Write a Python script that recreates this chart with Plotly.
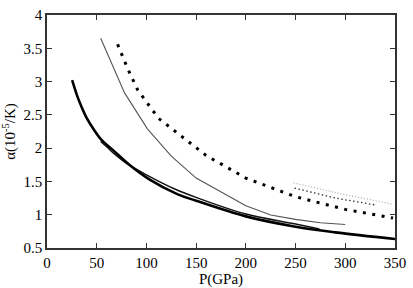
import plotly.graph_objects as go

# Thick solid black
p_a = [25.3, 30, 35, 40, 46.6, 55, 66.4, 82.8, 102.5, 131, 150, 200, 250, 290, 350]
a_a = [3.02, 2.80, 2.61, 2.45, 2.29, 2.12, 1.97, 1.75, 1.535, 1.31, 1.21, 0.975, 0.82, 0.735, 0.635]

# Thinner solid black
p_b = [54, 60, 68, 80, 100, 128, 150, 200, 250, 274]
a_b = [2.10, 2.02, 1.91, 1.77, 1.60, 1.39, 1.26, 1.01, 0.86, 0.785]

# Thin gray solid
p_c = [54, 78, 101, 125, 150, 200, 225, 250, 275, 300]
a_c = [3.65, 2.83, 2.29, 1.88, 1.55, 1.135, 0.995, 0.93, 0.88, 0.853]

# Thick dotted black
p_d = [71, 81, 91, 112, 160, 200, 250, 300, 348]
a_d = [3.56, 3.2, 2.88, 2.45, 1.89, 1.55, 1.27, 1.08, 0.95]

# Fine gray dotted
p_e = [248, 300, 347]
a_e = [1.478, 1.30, 1.16]

# Medium black dotted
p_f = [249, 290, 331]
a_f = [1.40, 1.25, 1.145]

x_ticks = [0, 50, 100, 150, 200, 250, 300, 350]
y_ticks = [0.5, 1, 1.5, 2, 2.5, 3, 3.5, 4]
y_tick_text = ["0.5", "1", "1.5", "2", "2.5", "3", "3.5", "4"]

fig = go.Figure()
fig.add_trace(go.Scatter(x=p_c, y=a_c, mode="lines", line=dict(color="#555555", width=1.1)))
fig.add_trace(go.Scatter(x=p_e, y=a_e, mode="lines", line=dict(color="#999999", width=1, dash="1px,2px")))
fig.add_trace(go.Scatter(x=p_f, y=a_f, mode="lines", line=dict(color="#333333", width=1.3, dash="1.5px,2.5px")))
fig.add_trace(go.Scatter(x=p_d, y=a_d, mode="lines", line=dict(color="black", width=3, dash="3px,6.5px")))
fig.add_trace(go.Scatter(x=p_b, y=a_b, mode="lines", line=dict(color="#111111", width=1.4, shape="spline")))
fig.add_trace(go.Scatter(x=p_a, y=a_a, mode="lines", line=dict(color="black", width=2.6, shape="spline")))

font = dict(family="Times New Roman, Liberation Serif, DejaVu Serif, serif", size=15, color="black")
fig.update_layout(
    width=413, height=288,
    margin=dict(l=46, r=12, t=7, b=33),
    paper_bgcolor="white", plot_bgcolor="white",
    showlegend=False,
    font=font,
)
fig.update_xaxes(
    range=[0, 350], tickvals=x_ticks, ticks="inside", ticklen=5, tickwidth=1,
    tickcolor="#333", showline=True, linecolor="#333", linewidth=1.5, mirror="ticks",
    showgrid=False, zeroline=False, tickfont=font,
    title=dict(text="P(GPa)", font=font, standoff=0),
)
fig.update_yaxes(
    range=[0.5, 4], tickvals=y_ticks, ticktext=y_tick_text, ticks="inside", ticklen=5, tickwidth=1,
    tickcolor="#333", showline=True, linecolor="#333", linewidth=1.5, mirror="ticks",
    showgrid=False, zeroline=False, tickfont=font,
    title=dict(text="α(10<sup>-5</sup>/K)", font=font, standoff=6),
)
fig.write_html(
    "out.html",
    config={"displayModeBar": False},
    post_script="document.body.style.margin='0';document.body.style.overflow='hidden';",
)
